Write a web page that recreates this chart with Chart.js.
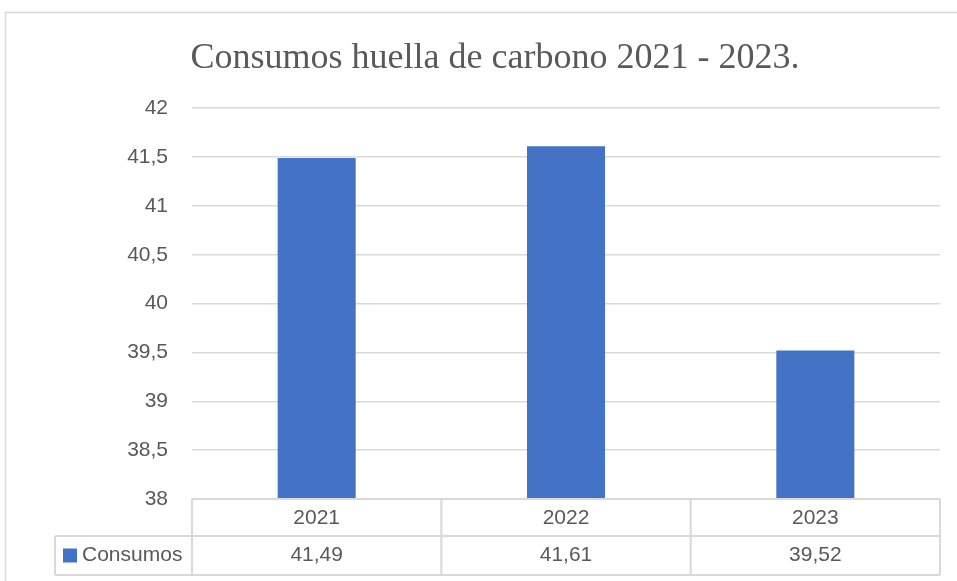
<!DOCTYPE html>
<html lang="es">
<head>
<meta charset="utf-8">
<title>Consumos huella de carbono 2021 - 2023.</title>
<script src="https://cdn.jsdelivr.net/npm/chart.js@4"></script>
<style>
    html, body { margin: 0; padding: 0; background: #fff; }
    #wrap { position: relative; width: 957px; height: 581px; }
</style>
</head>
<body>
<div id="wrap"><canvas id="chart"></canvas></div>
<script>
'use strict';

// Datos del gráfico
const categorias = ['2021', '2022', '2023'];
const consumos = [41.49, 41.61, 39.52];
const serieNombre = 'Consumos';
const ejeY = { min: 38, max: 42, paso: 0.5 };

const GRIS_TEXTO = '#595959';
const GRIS_LINEA = '#d9d9d9';
const AZUL = '#4472C4';
const FUENTE = "'Liberation Sans', Arial, sans-serif";

const coma = v => String(v).replace('.', ',');

// Borde exterior del área del gráfico
const bordeExterior = {
    id: 'bordeExterior',
    beforeDraw(chart) {
        const ctx = chart.ctx;
        ctx.save();
        ctx.strokeStyle = GRIS_LINEA;
        ctx.lineWidth = 1.5;
        ctx.strokeRect(5.5, 12.5, chart.width + 20, chart.height + 20);
        ctx.restore();
    }
};

// Tabla de datos bajo el eje X (estilo Excel)
const tablaDatos = {
    id: 'tablaDatos',
    afterDraw(chart) {
        const ctx = chart.ctx;
        const area = chart.chartArea;
        const x = chart.scales.x;
        const ancho = (area.right - area.left) / categorias.length;
        const fila1 = area.bottom;
        const fila2 = fila1 + 37;
        const fin = fila2 + 39;
        const izqLeyenda = 55;

        ctx.save();
        ctx.strokeStyle = GRIS_LINEA;
        ctx.lineWidth = 2;
        ctx.beginPath();
        // líneas horizontales
        ctx.moveTo(area.left, fila1); ctx.lineTo(area.right, fila1);
        ctx.moveTo(izqLeyenda, fila2); ctx.lineTo(area.right, fila2);
        ctx.moveTo(izqLeyenda, fin); ctx.lineTo(area.right, fin);
        // líneas verticales
        ctx.moveTo(izqLeyenda, fila2); ctx.lineTo(izqLeyenda, fin);
        categorias.forEach((c, i) => {
            const xi = x.getPixelForValue(i) - ancho / 2;
            ctx.moveTo(xi, fila1); ctx.lineTo(xi, fin);
        });
        ctx.moveTo(area.right, fila1); ctx.lineTo(area.right, fin);
        ctx.stroke();

        ctx.fillStyle = GRIS_TEXTO;
        ctx.font = '21px ' + FUENTE;
        ctx.textAlign = 'center';
        ctx.textBaseline = 'middle';
        categorias.forEach((c, i) => {
            const xc = x.getPixelForValue(i);
            ctx.fillText(c, xc, (fila1 + fila2) / 2 + 1);
            ctx.fillText(coma(consumos[i]), xc, (fila2 + fin) / 2);
        });

        // leyenda dentro de la tabla
        ctx.fillStyle = AZUL;
        ctx.fillRect(63, (fila2 + fin) / 2 - 7, 14, 14);
        ctx.fillStyle = GRIS_TEXTO;
        ctx.textAlign = 'left';
        ctx.fillText(serieNombre, 82, (fila2 + fin) / 2);
        ctx.restore();
    }
};

new Chart(document.getElementById('chart'), {
    type: 'bar',
    data: {
        labels: categorias,
        datasets: [{
            label: serieNombre,
            data: consumos,
            backgroundColor: AZUL,
            borderWidth: 0,
            categoryPercentage: 1,
            barPercentage: 0.313
        }]
    },
    options: {
        responsive: true,
        maintainAspectRatio: false,
        animation: false,
        layout: { padding: { left: 50, right: 17, top: 0, bottom: 82 } },
        plugins: {
            legend: { display: false },
            tooltip: { enabled: false },
            title: {
                display: true,
                text: 'Consumos huella de carbono 2021 - 2023.',
                color: GRIS_TEXTO,
                font: { family: "'Liberation Serif', 'Times New Roman', serif", size: 36, weight: 'normal' },
                padding: { top: 37, bottom: 28 }
            }
        },
        scales: {
            x: { display: false },
            y: {
                min: ejeY.min,
                max: ejeY.max,
                border: { display: false },
                grid: { color: GRIS_LINEA, lineWidth: 1.5, drawTicks: false },
                afterFit: s => { s.width = 142; },
                ticks: {
                    stepSize: ejeY.paso,
                    padding: 24,
                    color: GRIS_TEXTO,
                    font: { family: FUENTE, size: 21 },
                    callback: v => coma(v)
                }
            }
        }
    },
    plugins: [bordeExterior, tablaDatos]
});
</script>
</body>
</html>
